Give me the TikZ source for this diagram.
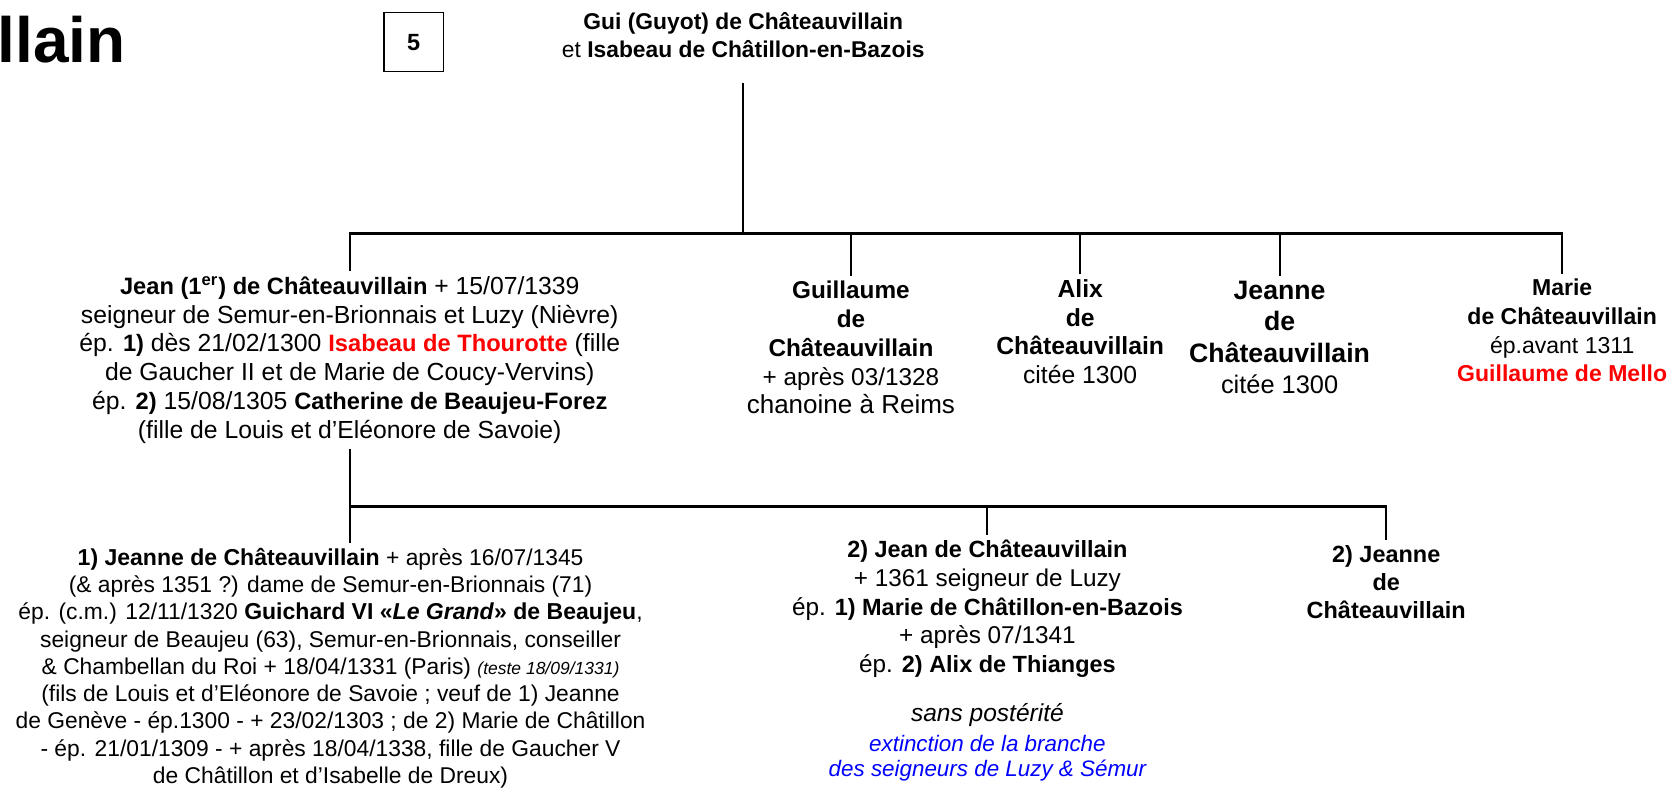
\documentclass[tikz,border=0pt]{standalone}
\usepackage{fontspec}
\setmainfont{Liberation Sans}
\usetikzlibrary{positioning}
\newcommand\nm[2][11.1]{{\bfseries\fontsize{#1}{14}\selectfont#2}}

\begin{document}
\begin{tikzpicture}[x=0.5pt, y=-0.5pt, line width=1pt,
  every node/.style={align=center, inner sep=2pt},
  txt/.style={font=\fontsize{#1}{13.5}\selectfont},
  bld/.style={font=\bfseries\fontsize{#1}{13.5}\selectfont}]
\useasboundingbox (0,0) rectangle (1568,744);
\node[font=\bfseries\fontsize{30}{32}\selectfont] (T) at (58,37) {llain};
\node[draw, line width=0.6pt, minimum width=28pt, minimum height=27.5pt, font=\bfseries\fontsize{11}{13}\selectfont] (B) at (388,39.5) {5};
\node[txt=10.7] (G0N0) at (697,33) {\textbf{Gui (Guyot) de Châteauvillain}\\ et \textbf{Isabeau de Châtillon-en-Bazois}};
\node[txt=11.6] (G1N0) at (328,337.5) {\nm{Jean (1\textsuperscript{er}) de Châteauvillain} + 15/07/1339\\ seigneur de Semur-en-Brionnais et Luzy (Nièvre)\\ ép. \nm{1)} dès 21/02/1300 \textcolor{red}{\nm{Isabeau de Thourotte}} (fille\\ de Gaucher II et de Marie de Coucy-Vervins)\\ ép. \nm{2)} 15/08/1305 \nm{Catherine de Beaujeu-Forez}\\ (fille de Louis et d’Eléonore de Savoie)};
\node[txt=11.4] (G1N1) at (798,326) {\nm[11.4]{Guillaume}\\ \nm[11.4]{de}\\ \nm[11.4]{Châteauvillain}\\ + après 03/1328\\ {\fontsize{12.2}{13.5}\selectfont chanoine à Reims}};
\node[bld=11.6] (G1N2) at (1013,311) {Alix\\ de\\ Châteauvillain\\ \mdseries citée 1300};
\node[font=\bfseries\fontsize{12.5}{14.8}\selectfont] (G1N3) at (1200,316.5) {Jeanne\\ de\\ Châteauvillain\\ \mdseries\fontsize{11.9}{14.8}\selectfont citée 1300};
\node[txt=10.8] (G1N4) at (1465,310) {\textbf{Marie}\\ \textbf{de Châteauvillain}\\ ép.avant 1311\\ \textcolor{red}{\textbf{Guillaume de Mello}}};
\node[font=\fontsize{10.7}{12.8}\selectfont] (G2N0) at (310,626.5) {\nm[10.8]{1) Jeanne de Châteauvillain} + après 16/07/1345\\ (\& après 1351 ?) dame de Semur-en-Brionnais (71)\\ ép. (c.m.) 12/11/1320 \nm[10.8]{Guichard VI «\textit{Le Grand}» de Beaujeu},\\ seigneur de Beaujeu (63), Semur-en-Brionnais, conseiller\\ \& Chambellan du Roi + 18/04/1331 (Paris) {\itshape\fontsize{8.2}{12.8}\selectfont (teste 18/09/1331)}\\ (fils de Louis et d’Eléonore de Savoie ; veuf de 1) Jeanne\\ de Genève - ép.1300 - + 23/02/1303 ; de 2) Marie de Châtillon\\ - ép. 21/01/1309 - + après 18/04/1338, fille de Gaucher V\\ de Châtillon et d’Isabelle de Dreux)};
\node[font=\fontsize{11.4}{13.5}\selectfont] (G2N1) at (926,571) {\nm[11]{2) Jean de Châteauvillain}\\ + 1361 seigneur de Luzy\\ ép. \nm[11]{1) Marie de Châtillon-en-Bazois}\\ + après 07/1341\\ ép. \nm[11]{2) Alix de Thianges}};
\node[font=\itshape\fontsize{11.5}{13}\selectfont] (N1) at (926,671) {sans postérité};
\node[font=\itshape\fontsize{10.5}{11.7}\selectfont, text=blue, below=-1pt of N1] (N2) {extinction de la branche\\ des seigneurs de Luzy \& Sémur};
\node[font=\bfseries\fontsize{11}{13.3}\selectfont] (G2N2) at (1300,546) {2) Jeanne\\ de\\ Châteauvillain};
% generation 1
\coordinate (R0) at (697,78);
\coordinate (J1) at (697,219);
\draw (R0) -- (J1);
\draw (G1N0.north) |- (G1N4.north |- J1) -- (G1N4.north);
\foreach \n in {G1N1,G1N2,G1N3} \draw (\n.north |- J1) -- (\n.north);
% generation 2
\coordinate (J2) at (328,475);
\draw (G1N0.south) -- (G1N0.south |- G2N0.north);
\draw (J2) -| (G2N2.north);
\draw (G2N1.north |- J2) -- (G2N1.north);
\end{tikzpicture}
\end{document}
